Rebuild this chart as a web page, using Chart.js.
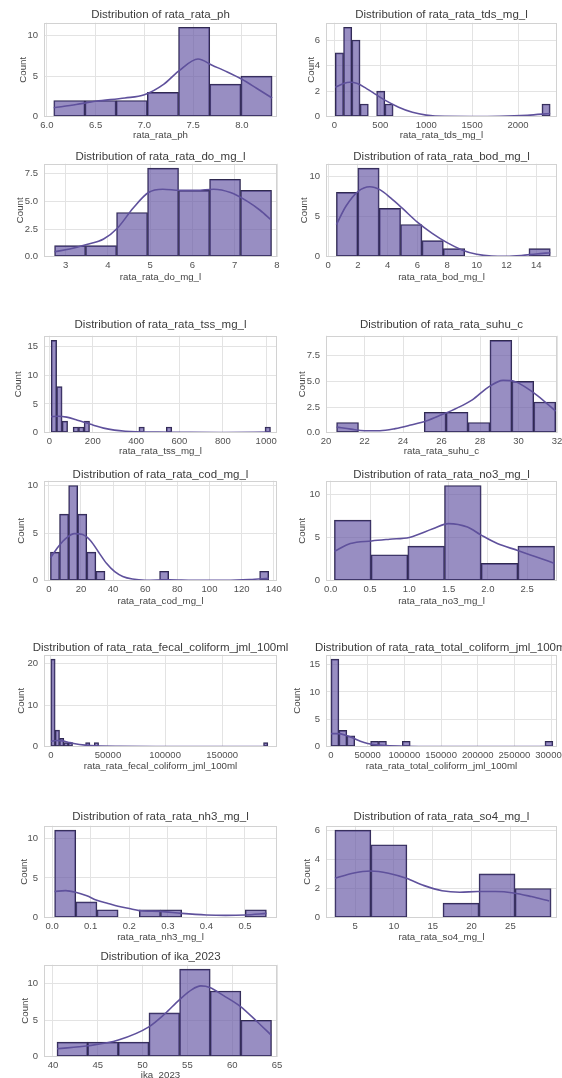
<!DOCTYPE html>
<html>
<head>
<meta charset="utf-8">
<title>Distributions</title>
<script src="https://cdn.jsdelivr.net/npm/chart.js@4.4.1/dist/chart.umd.min.js"></script>
<style>
  html, body { margin: 0; padding: 0; background: #fff; }
  #page { position: relative; width: 562px; height: 1078px; overflow: hidden; }
  #page canvas { position: absolute; }
</style>
</head>
<body>
<div id="page"></div>
<script>
// ---- values: bin counts, [first edge, bin width], kde samples, x range, ticks ----
const phCounts = [2, 2, 2, 3, 11, 4, 5];
const phBin = [6.07, 0.32];
const phKdeX = [6.07, 6.3, 6.5, 6.8, 7.0, 7.2, 7.35, 7.55, 7.7, 7.85, 8.0, 8.15, 8.31];
const phKdeY = [1.1, 1.5, 1.9, 2.3, 2.7, 4.0, 5.6, 7.1, 6.3, 5.5, 4.6, 3.5, 2.3];
const phRange = [5.97, 8.36];
const phXTicks = [6.0, 6.5, 7.0, 7.5, 8.0];
const phYTicks = [0, 5, 10];

const tdsCounts = [5, 7, 6, 1, 0, 2, 1, 0, 0, 0, 0, 0, 0, 0, 0, 0, 0, 0, 0, 0, 0, 0, 0, 0, 0, 1];
const tdsBin = [10, 90];
const tdsKdeX = [10, 100, 170, 250, 350, 450, 550, 700, 850, 1000, 1200, 1500, 1800, 2100, 2350];
const tdsKdeY = [2.3, 2.6, 2.7, 2.6, 2.2, 1.75, 1.3, 0.75, 0.35, 0.13, 0.03, 0.02, 0.04, 0.12, 0.25];
const tdsRange = [-91, 2424];
const tdsXTicks = [0, 500, 1000, 1500, 2000];
const tdsYTicks = [0, 2, 4, 6];

const doCounts = [1, 1, 4, 8, 6, 7, 6];
const doBin = [2.74, 0.733];
const doKdeX = [2.74, 3.1, 3.5, 3.9, 4.23, 4.6, 4.96, 5.3, 5.7, 6.1, 6.5, 6.9, 7.3, 7.6, 7.87];
const doKdeY = [0.45, 0.7, 1.1, 1.6, 2.6, 4.4, 5.8, 6.1, 6.0, 6.0, 6.1, 5.8, 5.0, 4.2, 3.3];
const doRange = [2.49, 8.0];
const doXTicks = [3, 4, 5, 6, 7, 8];
const doYTicks = [0, 2.5, 5, 7.5];

const bodCounts = [8, 11, 6, 4, 2, 1, 0, 0, 0, 1];
const bodBin = [0.55, 1.44];
const bodKdeX = [0.55, 1.2, 2.0, 2.8, 3.5, 4.2, 5.0, 6.0, 7.0, 8.0, 9.0, 10.0, 11.0, 12.0, 13.0, 14.0, 14.95];
const bodKdeY = [4.0, 6.3, 8.1, 8.7, 8.3, 7.3, 6.0, 4.3, 2.9, 1.75, 0.85, 0.3, 0.08, 0.05, 0.15, 0.35, 0.5];
const bodRange = [-0.15, 15.4];
const bodXTicks = [0, 2, 4, 6, 8, 10, 12, 14];
const bodYTicks = [0, 5, 10];

const tssCounts = [16, 8, 2, 0, 1, 1, 2, 0, 0, 0, 0, 0, 0, 0, 0, 0, 1, 0, 0, 0,
                   0, 1, 0, 0, 0, 0, 0, 0, 0, 0, 0, 0, 0, 0, 0, 0, 0, 0, 0, 1];
const tssBin = [8, 25.3];
const tssKdeX = [8, 40, 80, 120, 160, 200, 250, 300, 350, 400, 500, 600, 800, 1020];
const tssKdeY = [2.8, 2.85, 2.7, 2.3, 1.8, 1.35, 0.8, 0.45, 0.25, 0.15, 0.1, 0.08, 0.05, 0.1];
const tssRange = [-25, 1050];
const tssXTicks = [0, 200, 400, 600, 800, 1000];
const tssYTicks = [0, 5, 10, 15];

const suhuCounts = [1, 0, 0, 0, 2, 2, 1, 9, 5, 3];
const suhuBin = [20.55, 1.138];
const suhuKdeX = [20.55, 21.3, 22.0, 22.8, 23.6, 24.4, 25.2, 26.0, 26.8, 27.6, 28.4, 29.2, 29.8, 30.4, 31.0, 31.93];
const suhuKdeY = [0.55, 0.35, 0.2, 0.2, 0.4, 0.75, 1.15, 1.75, 2.4, 3.2, 4.4, 5.1, 5.0, 4.4, 3.6, 2.1];
const suhuRange = [20.0, 32.0];
const suhuXTicks = [20, 22, 24, 26, 28, 30, 32];
const suhuYTicks = [0, 2.5, 5, 7.5];

const codCounts = [3, 7, 10, 7, 3, 1, 0, 0, 0, 0, 0, 0, 1, 0, 0, 0, 0, 0, 0, 0, 0, 0, 0, 1];
const codBin = [1, 5.66];
const codKdeX = [1, 6, 11, 16, 21, 26, 31, 36, 41, 46, 52, 60, 75, 90, 110, 125, 136.8];
const codKdeY = [2.4, 3.6, 4.5, 4.95, 4.85, 4.2, 3.0, 1.8, 0.95, 0.45, 0.18, 0.06, 0.1, 0.05, 0.05, 0.12, 0.25];
const codRange = [-3, 142];
const codXTicks = [0, 20, 40, 60, 80, 100, 120, 140];
const codYTicks = [0, 5, 10];

const no3Counts = [7, 3, 4, 11, 2, 4];
const no3Bin = [0.047, 0.467];
const no3KdeX = [0.047, 0.25, 0.52, 0.75, 1.0, 1.3, 1.5, 1.74, 1.91, 2.12, 2.38, 2.6, 2.85];
const no3KdeY = [3.4, 4.3, 4.6, 4.8, 5.0, 6.0, 6.6, 6.2, 5.3, 4.3, 3.5, 2.8, 2.0];
const no3Range = [-0.06, 2.88];
const no3XTicks = [0, 0.5, 1.0, 1.5, 2.0, 2.5];
const no3YTicks = [0, 5, 10];

const fecalCounts = [21, 4, 2, 1, 1, 0, 0, 0, 1, 0, 1, 0, 0, 0, 0, 0, 0, 0, 0, 0, 0, 0, 0, 0, 0,
                     0, 0, 0, 0, 0, 0, 0, 0, 0, 0, 0, 0, 0, 0, 0, 0, 0, 0, 0, 0, 0, 0, 0, 0, 1];
const fecalBin = [0, 3800];
const fecalKdeX = [0, 5000, 10000, 15000, 20000, 30000, 40000, 60000, 100000, 150000, 190000];
const fecalKdeY = [1.3, 1.5, 1.4, 1.1, 0.8, 0.4, 0.2, 0.08, 0.03, 0.02, 0.05];
const fecalRange = [-6000, 198000];
const fecalXTicks = [0, 50000, 100000, 150000];
const fecalYTicks = [0, 10, 20];

const totalCounts = [16, 3, 2, 0, 0, 1, 1, 0, 0, 1, 0, 0, 0, 0, 0, 0, 0, 0, 0, 0, 0, 0, 0, 0, 0, 0, 0, 1];
const totalBin = [0, 10800];
const totalKdeX = [0, 10000, 20000, 30000, 40000, 50000, 70000, 100000, 150000, 200000, 250000, 302000];
const totalKdeY = [2.4, 2.4, 2.1, 1.6, 1.0, 0.6, 0.25, 0.1, 0.03, 0.02, 0.03, 0.06];
const totalRange = [-6800, 308000];
const totalXTicks = [0, 50000, 100000, 150000, 200000, 250000, 300000];
const totalYTicks = [0, 5, 10, 15];

const nh3Counts = [11, 2, 1, 0, 1, 1, 0, 0, 0, 1];
const nh3Bin = [0.0065, 0.0549];
const nh3KdeX = [0.0065, 0.035, 0.061, 0.09, 0.116, 0.145, 0.171, 0.2, 0.226, 0.28, 0.336, 0.4, 0.45, 0.5, 0.556];
const nh3KdeY = [3.3, 3.4, 3.2, 2.75, 2.2, 1.8, 1.45, 1.15, 0.9, 0.8, 0.55, 0.35, 0.3, 0.35, 0.55];
const nh3Range = [-0.021, 0.583];
const nh3XTicks = [0, 0.1, 0.2, 0.3, 0.4, 0.5];
const nh3YTicks = [0, 5, 10];

const so4Counts = [6, 5, 0, 1, 3, 2];
const so4Bin = [2.4, 4.64];
const so4KdeX = [2.4, 4.7, 7.0, 9.3, 11.6, 13.9, 16.2, 18.5, 20.8, 23.1, 25.4, 27.7, 30.0];
const so4KdeY = [2.7, 3.05, 3.2, 3.05, 2.7, 2.2, 1.85, 1.75, 1.8, 1.8, 1.7, 1.45, 1.15];
const so4Range = [1.26, 31.0];
const so4XTicks = [5, 10, 15, 20, 25];
const so4YTicks = [0, 2, 4, 6];

const ikaCounts = [2, 2, 2, 6, 12, 9, 5];
const ikaBin = [40.45, 3.42];
const ikaKdeX = [40.45, 43.9, 47.3, 50.7, 52.5, 54.1, 55.5, 56.5, 57.5, 59, 60.9, 62.7, 64.4];
const ikaKdeY = [1.1, 1.5, 2.3, 4.1, 5.9, 7.8, 9.2, 9.7, 9.5, 8.4, 6.9, 4.9, 2.9];
const ikaRange = [39.0, 65.0];
const ikaXTicks = [40, 45, 50, 55, 60, 65];
const ikaYTicks = [0, 5, 10];

// ---- layout of the grid of subplots ----
const COLS = [{left: 44, right: 277}, {left: 326, right: 557}];
const ROWS = [
  {title: 15, top: 23, bottom: 117, label: 135},
  {title: 157, top: 164, bottom: 257, label: 277},
  {title: 325, top: 336, bottom: 433, label: 451},
  {title: 475, top: 481, bottom: 581, label: 601},
  {title: 648, top: 655, bottom: 747, label: 766},
  {title: 817, top: 826, bottom: 918, label: 937},
  {title: 957, top: 965, bottom: 1057, label: 1075}
];

const FONT = '"Liberation Sans", Arial, sans-serif';
const BAR_FILL = 'rgba(98, 84, 163, 0.66)';
const BAR_EDGE = '#2f2950';
const KDE_LINE = '#5f519c';
const GRID = '#e3e3e3';

const panels = [
  {name: 'rata_rata_ph', counts: phCounts, bin: phBin, kx: phKdeX, ky: phKdeY, range: phRange, xt: phXTicks, yt: phYTicks, xDec: 1, yDec: 0, col: 0, row: 0, countX: 23},
  {name: 'rata_rata_tds_mg_l', counts: tdsCounts, bin: tdsBin, kx: tdsKdeX, ky: tdsKdeY, range: tdsRange, xt: tdsXTicks, yt: tdsYTicks, xDec: 0, yDec: 0, col: 1, row: 0, countX: 311},
  {name: 'rata_rata_do_mg_l', counts: doCounts, bin: doBin, kx: doKdeX, ky: doKdeY, range: doRange, xt: doXTicks, yt: doYTicks, xDec: 0, yDec: 1, col: 0, row: 1, countX: 20},
  {name: 'rata_rata_bod_mg_l', counts: bodCounts, bin: bodBin, kx: bodKdeX, ky: bodKdeY, range: bodRange, xt: bodXTicks, yt: bodYTicks, xDec: 0, yDec: 0, col: 1, row: 1, countX: 304},
  {name: 'rata_rata_tss_mg_l', counts: tssCounts, bin: tssBin, kx: tssKdeX, ky: tssKdeY, range: tssRange, xt: tssXTicks, yt: tssYTicks, xDec: 0, yDec: 0, col: 0, row: 2, countX: 18},
  {name: 'rata_rata_suhu_c', counts: suhuCounts, bin: suhuBin, kx: suhuKdeX, ky: suhuKdeY, range: suhuRange, xt: suhuXTicks, yt: suhuYTicks, xDec: 0, yDec: 1, col: 1, row: 2, countX: 302},
  {name: 'rata_rata_cod_mg_l', counts: codCounts, bin: codBin, kx: codKdeX, ky: codKdeY, range: codRange, xt: codXTicks, yt: codYTicks, xDec: 0, yDec: 0, col: 0, row: 3, countX: 21},
  {name: 'rata_rata_no3_mg_l', counts: no3Counts, bin: no3Bin, kx: no3KdeX, ky: no3KdeY, range: no3Range, xt: no3XTicks, yt: no3YTicks, xDec: 1, yDec: 0, col: 1, row: 3, countX: 302},
  {name: 'rata_rata_fecal_coliform_jml_100ml', counts: fecalCounts, bin: fecalBin, kx: fecalKdeX, ky: fecalKdeY, range: fecalRange, xt: fecalXTicks, yt: fecalYTicks, xDec: 0, yDec: 0, col: 0, row: 4, countX: 21},
  {name: 'rata_rata_total_coliform_jml_100ml', counts: totalCounts, bin: totalBin, kx: totalKdeX, ky: totalKdeY, range: totalRange, xt: totalXTicks, yt: totalYTicks, xDec: 0, yDec: 0, col: 1, row: 4, countX: 297},
  {name: 'rata_rata_nh3_mg_l', counts: nh3Counts, bin: nh3Bin, kx: nh3KdeX, ky: nh3KdeY, range: nh3Range, xt: nh3XTicks, yt: nh3YTicks, xDec: 1, yDec: 0, col: 0, row: 5, countX: 24},
  {name: 'rata_rata_so4_mg_l', counts: so4Counts, bin: so4Bin, kx: so4KdeX, ky: so4KdeY, range: so4Range, xt: so4XTicks, yt: so4YTicks, xDec: 0, yDec: 0, col: 1, row: 5, countX: 307},
  {name: 'ika_2023', counts: ikaCounts, bin: ikaBin, kx: ikaKdeX, ky: ikaKdeY, range: ikaRange, xt: ikaXTicks, yt: ikaYTicks, xDec: 0, yDec: 0, col: 0, row: 6, countX: 25}
];

// light frame round the plotting area, like the seaborn whitegrid spines
const framePlugin = {
  id: 'frame',
  afterDraw(chart) {
    const a = chart.chartArea;
    const ctx = chart.ctx;
    ctx.save();
    ctx.strokeStyle = '#d2d2d2';
    ctx.lineWidth = 1;
    ctx.strokeRect(Math.round(a.left) + 0.5, Math.round(a.top) + 0.5,
      Math.round(a.right - a.left) - 1, Math.round(a.bottom - a.top) - 1);
    ctx.restore();
  }
};

const page = document.getElementById('page');

function makePanel(p) {
  const col = COLS[p.col];
  const row = ROWS[p.row];
  const titleSize = 11.5, tickSize = 9.5, labelSize = 9.7;
  // canvas is symmetric round the plot so the title centres over it, like matplotlib
  const yw = col.left - p.countX + 8;
  const top = row.title - titleSize / 2;
  const left = col.left - yw;
  const width = yw + (col.right - col.left) + yw;
  const height = Math.round(row.label + labelSize / 2 + 2 - top);
  const xh = height - (row.bottom - top);

  const canvas = document.createElement('canvas');
  canvas.width = width;
  canvas.height = height;
  canvas.style.left = left + 'px';
  canvas.style.top = top + 'px';
  page.appendChild(canvas);

  const maxCount = Math.max(...p.counts);
  const bars = p.counts.map((c, i) => ({x: p.bin[0] + (i + 0.5) * p.bin[1], y: c}));
  const kde = p.kx.map((x, i) => ({x: x, y: p.ky[i]}));

  new Chart(canvas, {
    type: 'bar',
    data: {
      datasets: [
        {
          type: 'line',
          data: kde,
          borderColor: KDE_LINE,
          borderWidth: 1.6,
          pointRadius: 0,
          tension: 0.4,
          cubicInterpolationMode: 'monotone',
          order: 0
        },
        {
          data: bars,
          backgroundColor: BAR_FILL,
          borderColor: BAR_EDGE,
          borderWidth: ctx => (ctx.raw && ctx.raw.y > 0 ? 1 : 0),
          borderSkipped: false,
          barPercentage: 1,
          categoryPercentage: 1,
          order: 1
        }
      ]
    },
    options: {
      responsive: false,
      animation: false,
      devicePixelRatio: 1,
      layout: {padding: 0},
      plugins: {
        legend: {display: false},
        tooltip: {enabled: false},
        title: {
          display: true,
          text: 'Distribution of ' + p.name,
          color: '#3c3c3c',
          font: {family: FONT, size: titleSize, weight: 'normal', lineHeight: 1},
          padding: {top: 0, bottom: Math.max(0, row.top - row.title - titleSize / 2)}
        }
      },
      scales: {
        x: {
          type: 'linear',
          min: p.range[0],
          max: p.range[1],
          offset: false,
          grid: {color: GRID, offset: false, drawTicks: false},
          border: {display: false},
          afterBuildTicks: s => { s.ticks = p.xt.map(v => ({value: v})); },
          ticks: {
            autoSkip: false,
            maxRotation: 0,
            padding: 3,
            color: '#505050',
            font: {family: FONT, size: tickSize},
            callback: v => Number(v).toFixed(p.xDec)
          },
          title: {
            display: true,
            text: p.name,
            color: '#454545',
            font: {family: FONT, size: labelSize, lineHeight: 1},
            padding: {top: 0, bottom: 2}
          },
          afterFit: s => { s.height = xh; }
        },
        y: {
          min: 0,
          max: maxCount * 1.05,
          grid: {color: GRID, drawTicks: false},
          border: {display: false},
          afterBuildTicks: s => { s.ticks = p.yt.map(v => ({value: v})); },
          ticks: {
            padding: 6,
            color: '#505050',
            font: {family: FONT, size: tickSize},
            callback: v => Number(v).toFixed(p.yDec)
          },
          title: {
            display: true,
            text: 'Count',
            color: '#454545',
            font: {family: FONT, size: labelSize, lineHeight: 1},
            padding: {top: 3.15, bottom: 0}
          },
          afterFit: s => { s.width = yw; }
        },
        // empty right-hand gutter, same width as the y axis
        gutter: {
          type: 'linear',
          position: 'right',
          display: true,
          grid: {display: false},
          border: {display: false},
          ticks: {display: false},
          afterFit: s => { s.width = yw; }
        }
      }
    },
    plugins: [framePlugin]
  });
}

panels.forEach(makePanel);
</script>
</body>
</html>
